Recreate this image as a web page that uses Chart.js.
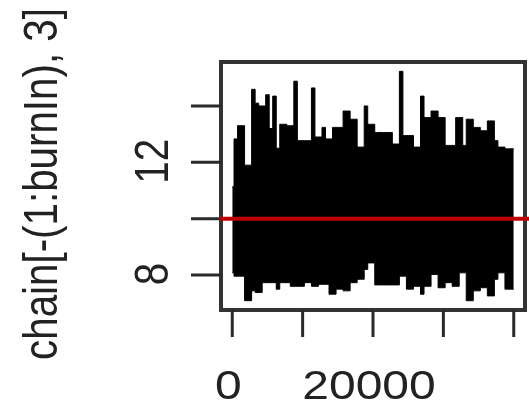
<!DOCTYPE html>
<html>
<head>
<meta charset="utf-8">
<script src="https://cdn.jsdelivr.net/npm/chart.js@4"></script>
<style>
  html, body { margin: 0; padding: 0; background: #fff; }
  canvas { display: block; }
</style>
</head>
<body>
<canvas id="trace" width="529" height="407"></canvas>
<script>
// iteration numbers (after burn-in) where the trace envelope was read
const iterations = [
    0, 500, 1000, 1500, 2000, 2500, 3000, 3500, 4000, 4500,
    5000, 5500, 6000, 6500, 7000, 7500, 8000, 8500, 9000, 9500,
    10000, 10500, 11000, 11500, 12000, 12500, 13000, 13500, 14000, 14500,
    15000, 15500, 16000, 16500, 17000, 17500, 18000, 18500, 19000, 19500,
    20000, 20500, 21000, 21500, 22000, 22500, 23000, 23500, 24000, 24500,
    25000, 25500, 26000, 26500, 27000, 27500, 28000, 28500, 29000, 29500,
    30000, 30500, 31000, 31500, 32000, 32500, 33000, 33500, 34000, 34500,
    35000, 35500, 36000, 36500, 37000, 37500, 38000, 38500, 39000, 39500,
    40000
];

// upper / lower edge of the chain[,3] trace band
const upperEnv = [
    11.13, 12.83, 13.30, 13.30, 11.90, 11.90, 14.59, 14.10, 14.00, 14.00,
    14.40, 13.20, 14.35, 12.50, 13.35, 13.35, 13.30, 13.30, 14.88, 12.77,
    12.77, 12.77, 12.77, 14.64, 12.90, 12.90, 13.24, 12.83, 12.83, 13.24,
    13.24, 13.24, 13.82, 13.82, 13.53, 13.53, 12.54, 12.54, 14.00, 13.35,
    13.35, 13.06, 13.06, 13.06, 13.06, 13.06, 12.65, 12.65, 15.23, 12.95,
    12.95, 12.95, 12.54, 12.54, 14.35, 13.59, 13.59, 13.82, 13.82, 13.59,
    13.59, 12.60, 12.60, 12.60, 13.59, 13.59, 12.60, 13.53, 13.53, 13.24,
    13.24, 13.12, 13.12, 13.47, 13.47, 12.77, 12.54, 12.54, 12.48, 12.48,
    12.48
];
const lowerEnv = [
    8.08, 7.96, 7.96, 7.96, 7.09, 7.09, 7.44, 7.38, 7.38, 7.73,
    7.73, 7.73, 7.73, 7.50, 7.73, 7.73, 7.73, 7.60, 7.60, 7.60,
    7.60, 7.73, 7.73, 7.60, 7.60, 7.67, 7.67, 7.67, 7.32, 7.32,
    7.50, 7.50, 7.44, 7.44, 7.73, 7.73, 7.85, 7.85, 8.20, 8.43,
    8.43, 7.65, 7.65, 7.65, 7.65, 7.65, 7.65, 7.65, 7.96, 7.96,
    7.50, 7.50, 7.60, 7.60, 7.32, 7.60, 7.60, 8.02, 8.02, 7.55,
    7.55, 7.73, 7.73, 7.60, 7.60, 8.08, 8.08, 7.09, 7.09, 7.44,
    7.44, 7.55, 7.55, 7.26, 7.26, 7.85, 8.08, 8.08, 7.50, 7.50,
    7.50
];

const refLine = 10;   // red abline

const xTicks = [0, 10000, 20000, 30000, 40000];
const xTickLabels = ['0', '', '20000', '', ''];
const yTicks = [8, 10, 12, 14];
const yTickLabels = ['8', '', '12', ''];
const yTitle = 'chain[-(1:burnIn), 3]';

const FONT = '48px "Liberation Sans", Arial, sans-serif';
const SQUASH = 0.84;   // picture is squeezed vertically

// R style frame, ticks, labels and the red line
const basePlot = {
    id: 'basePlot',
    afterDatasetsDraw(chart) {
        const ctx = chart.ctx;
        const a = chart.chartArea;
        const xs = chart.scales.x;
        const ys = chart.scales.y;
        ctx.save();

        // box
        ctx.strokeStyle = '#333';
        ctx.lineWidth = 4;
        ctx.strokeRect(a.left, a.top, a.right - a.left, a.bottom - a.top);

        // ticks
        ctx.lineWidth = 3;
        ctx.strokeStyle = '#2a2a2a';
        ctx.beginPath();
        yTicks.forEach(v => {
            const y = ys.getPixelForValue(v);
            ctx.moveTo(a.left - 30, y);
            ctx.lineTo(a.left, y);
        });
        xTicks.forEach(v => {
            const x = xs.getPixelForValue(v);
            ctx.moveTo(x, a.bottom);
            ctx.lineTo(x, a.bottom + 27);
        });
        ctx.stroke();

        // red line, runs a little past the box
        const yr = ys.getPixelForValue(refLine);
        ctx.strokeStyle = '#c00000';
        ctx.lineWidth = 4;
        ctx.beginPath();
        ctx.moveTo(a.left - 2, yr);
        ctx.lineTo(chart.width, yr);
        ctx.stroke();

        // text
        ctx.fillStyle = '#222';
        ctx.font = FONT;
        ctx.textAlign = 'center';
        ctx.textBaseline = 'alphabetic';

        xTicks.forEach((v, i) => {
            if (!xTickLabels[i]) return;
            ctx.save();
            ctx.translate(xs.getPixelForValue(v) - 4, 399);
            ctx.scale(1, SQUASH);
            ctx.fillText(xTickLabels[i], 0, 0);
            ctx.restore();
        });

        yTicks.forEach((v, i) => {
            if (!yTickLabels[i]) return;
            ctx.save();
            ctx.translate(168, ys.getPixelForValue(v) - 1);
            ctx.scale(1, SQUASH);
            ctx.rotate(-Math.PI / 2);
            ctx.fillText(yTickLabels[i], 0, 0);
            ctx.restore();
        });

        ctx.save();
        ctx.translate(57, 184);
        ctx.scale(1, SQUASH);
        ctx.rotate(-Math.PI / 2);
        ctx.fillText(yTitle, 0, 0);
        ctx.restore();

        ctx.restore();
    }
};

new Chart(document.getElementById('trace'), {
    type: 'line',
    data: {
        datasets: [
            {
                label: 'upper',
                data: iterations.map((it, i) => ({ x: it, y: upperEnv[i] })),
                stepped: 'middle',
                borderColor: '#000',
                borderWidth: 1,
                backgroundColor: '#000',
                fill: '+1',
                pointRadius: 0
            },
            {
                label: 'lower',
                data: iterations.map((it, i) => ({ x: it, y: lowerEnv[i] })),
                stepped: 'middle',
                borderColor: '#000',
                borderWidth: 1,
                fill: false,
                pointRadius: 0
            }
        ]
    },
    options: {
        responsive: false,
        animation: false,
        devicePixelRatio: 1,
        layout: { padding: { left: 221, top: 62, right: 4, bottom: 97 } },
        plugins: { legend: { display: false }, tooltip: { enabled: false } },
        scales: {
            x: { type: 'linear', display: false, min: -1600, max: 41600 },
            y: { type: 'linear', display: false, min: 6.76, max: 15.56 }
        }
    },
    plugins: [basePlot]
});
</script>
</body>
</html>
